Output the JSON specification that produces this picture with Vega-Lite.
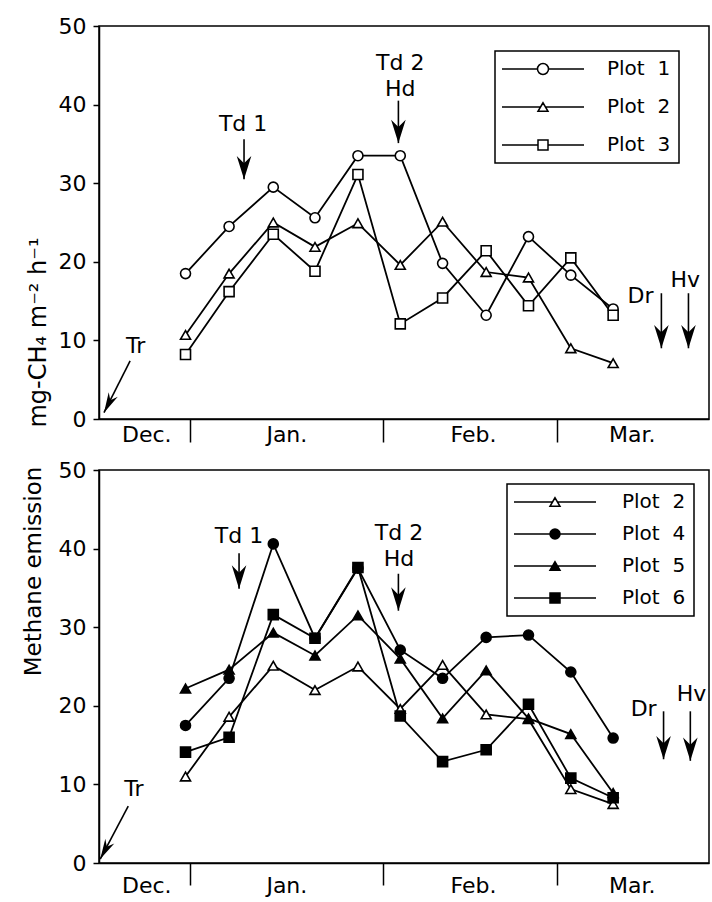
{
  "$schema": "https://vega.github.io/schema/vega-lite/v6.json",
  "padding": {"left": 21, "top": 14, "right": 0, "bottom": 0},
  "spacing": 51,
  "bounds": "flush",
  "resolve": {"scale": {"fill": "independent", "x": "independent", "y": "independent"}, "legend": {"fill": "independent"}},
  "config": {
    "font": "DejaVu Sans",
    "view": {"stroke": "black", "strokeWidth": 1.5},
    "axis": {"grid": false, "domainColor": "black", "domainWidth": 1.5, "tickColor": "black", "tickWidth": 1.5, "labelColor": "black", "titleColor": "black", "labelFont": "DejaVu Sans", "titleFont": "DejaVu Sans", "labelFontSize": 22, "titleFontWeight": "normal"},
    "legend": {"strokeWidth": 1.5}
  },
  "datasets": {
    "top": [
      {"day": -0.7, "value": 18.5, "series": "Plot 1"}, {"day": 6.3, "value": 24.5, "series": "Plot 1"}, {"day": 13.4, "value": 29.5, "series": "Plot 1"}, {"day": 20.1, "value": 25.6, "series": "Plot 1"}, {"day": 27.0, "value": 33.5, "series": "Plot 1"}, {"day": 33.8, "value": 33.5, "series": "Plot 1"}, {"day": 40.6, "value": 19.8, "series": "Plot 1"}, {"day": 47.6, "value": 13.2, "series": "Plot 1"}, {"day": 54.4, "value": 23.2, "series": "Plot 1"}, {"day": 61.2, "value": 18.3, "series": "Plot 1"}, {"day": 68.0, "value": 14.0, "series": "Plot 1"},
      {"day": -0.7, "value": 10.7, "series": "Plot 2"}, {"day": 6.3, "value": 18.5, "series": "Plot 2"}, {"day": 13.4, "value": 25.0, "series": "Plot 2"}, {"day": 20.1, "value": 21.9, "series": "Plot 2"}, {"day": 27.0, "value": 24.9, "series": "Plot 2"}, {"day": 33.8, "value": 19.6, "series": "Plot 2"}, {"day": 40.6, "value": 25.1, "series": "Plot 2"}, {"day": 47.6, "value": 18.7, "series": "Plot 2"}, {"day": 54.4, "value": 18.0, "series": "Plot 2"}, {"day": 61.2, "value": 9.0, "series": "Plot 2"}, {"day": 68.0, "value": 7.1, "series": "Plot 2"},
      {"day": -0.7, "value": 8.2, "series": "Plot 3"}, {"day": 6.3, "value": 16.2, "series": "Plot 3"}, {"day": 13.4, "value": 23.5, "series": "Plot 3"}, {"day": 20.1, "value": 18.8, "series": "Plot 3"}, {"day": 27.0, "value": 31.1, "series": "Plot 3"}, {"day": 33.8, "value": 12.1, "series": "Plot 3"}, {"day": 40.6, "value": 15.4, "series": "Plot 3"}, {"day": 47.6, "value": 21.4, "series": "Plot 3"}, {"day": 54.4, "value": 14.4, "series": "Plot 3"}, {"day": 61.2, "value": 20.5, "series": "Plot 3"}, {"day": 68.0, "value": 13.2, "series": "Plot 3"}
    ],
    "bottom": [
      {"day": -0.7, "value": 11.0, "series": "Plot 2"}, {"day": 6.3, "value": 18.6, "series": "Plot 2"}, {"day": 13.4, "value": 25.1, "series": "Plot 2"}, {"day": 20.1, "value": 22.0, "series": "Plot 2"}, {"day": 27.0, "value": 25.0, "series": "Plot 2"}, {"day": 33.8, "value": 19.6, "series": "Plot 2"}, {"day": 40.6, "value": 25.2, "series": "Plot 2"}, {"day": 47.6, "value": 18.9, "series": "Plot 2"}, {"day": 54.4, "value": 18.3, "series": "Plot 2"}, {"day": 61.2, "value": 9.4, "series": "Plot 2"}, {"day": 68.0, "value": 7.5, "series": "Plot 2"},
      {"day": -0.7, "value": 17.5, "series": "Plot 4"}, {"day": 6.3, "value": 23.5, "series": "Plot 4"}, {"day": 13.4, "value": 40.6, "series": "Plot 4"}, {"day": 20.1, "value": 28.6, "series": "Plot 4"}, {"day": 27.0, "value": 37.5, "series": "Plot 4"}, {"day": 33.8, "value": 27.1, "series": "Plot 4"}, {"day": 40.6, "value": 23.5, "series": "Plot 4"}, {"day": 47.6, "value": 28.7, "series": "Plot 4"}, {"day": 54.4, "value": 29.0, "series": "Plot 4"}, {"day": 61.2, "value": 24.3, "series": "Plot 4"}, {"day": 68.0, "value": 15.9, "series": "Plot 4"},
      {"day": -0.7, "value": 22.2, "series": "Plot 5"}, {"day": 6.3, "value": 24.6, "series": "Plot 5"}, {"day": 13.4, "value": 29.3, "series": "Plot 5"}, {"day": 20.1, "value": 26.4, "series": "Plot 5"}, {"day": 27.0, "value": 31.5, "series": "Plot 5"}, {"day": 33.8, "value": 26.0, "series": "Plot 5"}, {"day": 40.6, "value": 18.4, "series": "Plot 5"}, {"day": 47.6, "value": 24.5, "series": "Plot 5"}, {"day": 54.4, "value": 18.4, "series": "Plot 5"}, {"day": 61.2, "value": 16.4, "series": "Plot 5"}, {"day": 68.0, "value": 8.9, "series": "Plot 5"},
      {"day": -0.7, "value": 14.1, "series": "Plot 6"}, {"day": 6.3, "value": 16.0, "series": "Plot 6"}, {"day": 13.4, "value": 31.6, "series": "Plot 6"}, {"day": 20.1, "value": 28.6, "series": "Plot 6"}, {"day": 27.0, "value": 37.6, "series": "Plot 6"}, {"day": 33.8, "value": 18.7, "series": "Plot 6"}, {"day": 40.6, "value": 12.9, "series": "Plot 6"}, {"day": 47.6, "value": 14.4, "series": "Plot 6"}, {"day": 54.4, "value": 20.2, "series": "Plot 6"}, {"day": 61.2, "value": 10.8, "series": "Plot 6"}, {"day": 68.0, "value": 8.3, "series": "Plot 6"}
    ],
    "textTop": [
      {"label": "Tr", "day": -8.7, "value": 9.35}, {"label": "Td 1", "day": 8.55, "value": 37.5}, {"label": "Td 2", "day": 33.8, "value": 45.3}, {"label": "Hd", "day": 33.8, "value": 42.0}, {"label": "Dr", "day": 72.4, "value": 15.6}, {"label": "Hv", "day": 79.6, "value": 17.7}
    ],
    "arrowsTop": [
      {"label": "Tr", "day": -9.6, "value": 7.4, "day2": -13.8, "value2": 0.8},
      {"label": "Td 1", "day": 8.7, "value": 35.6, "day2": 8.7, "value2": 30.5},
      {"label": "Td 2", "day": 33.5, "value": 40.5, "day2": 33.5, "value2": 35.1},
      {"label": "Dr", "day": 75.75, "value": 16.0, "day2": 75.75, "value2": 9.0},
      {"label": "Hv", "day": 80.1, "value": 16.0, "day2": 80.1, "value2": 9.0}
    ],
    "textBottom": [
      {"label": "Tr", "day": -9.0, "value": 9.4}, {"label": "Td 1", "day": 7.9, "value": 41.6}, {"label": "Td 2", "day": 33.6, "value": 42.0}, {"label": "Hd", "day": 33.6, "value": 38.7}, {"label": "Dr", "day": 72.9, "value": 19.6}, {"label": "Hv", "day": 80.6, "value": 21.5}
    ],
    "arrowsBottom": [
      {"label": "Tr", "day": -9.9, "value": 7.25, "day2": -14.4, "value2": 0.5},
      {"label": "Td 1", "day": 7.9, "value": 39.4, "day2": 7.9, "value2": 34.9},
      {"label": "Td 2", "day": 33.5, "value": 36.8, "day2": 33.5, "value2": 32.1},
      {"label": "Dr", "day": 76.1, "value": 19.3, "day2": 76.1, "value2": 13.2},
      {"label": "Hv", "day": 80.4, "value": 19.3, "day2": 80.4, "value2": 13.0}
    ]
  },
  "vconcat": [
    {
      "width": 610,
      "height": 393,
      "layer": [
        {
          "data": {"name": "top"},
          "mark": {"type": "line", "color": "black", "strokeWidth": 1.8},
          "encoding": {
            "x": {"field": "day", "type": "quantitative", "scale": {"domain": [-14.6, 83.4], "nice": false, "zero": false},
              "axis": {"title": null, "values": [-7, 0, 15.5, 31, 45.5, 59, 71], "labelExpr": "datum.value == -7 ? 'Dec.' : datum.value == 15.5 ? 'Jan.' : datum.value == 45.5 ? 'Feb.' : datum.value == 71 ? 'Mar.' : ''", "tickOpacity": {"condition": {"test": "datum.value == 0 || datum.value == 31 || datum.value == 59", "value": 1}, "value": 0}, "tickSize": 23, "labelPadding": -18, "labelFlush": false, "labelOverlap": false}},
            "y": {"field": "value", "type": "quantitative", "scale": {"domain": [0, 50], "nice": false},
              "axis": {"title": "mg-CH₄ m⁻² h⁻¹", "titleFontSize": 24, "titleX": -54, "titleY": 306, "titleAngle": -90, "titleAlign": "center", "titleBaseline": "alphabetic", "values": [0, 5, 10, 15, 20, 25, 30, 35, 40, 45, 50], "labelExpr": "datum.value % 10 === 0 ? datum.label : ''", "tickSize": {"condition": {"test": "datum.value % 10 !== 0", "value": 3}, "value": 6}, "labelPadding": 7, "labelOverlap": false, "labelFlush": false}},
            "detail": {"field": "series"}
          }
        },
        {
          "data": {"name": "top"},
          "mark": {"type": "point", "filled": true, "stroke": "black", "strokeWidth": 1.6, "size": 100, "opacity": 1},
          "encoding": {
            "x": {"field": "day", "type": "quantitative", "scale": {"domain": [-14.6, 83.4], "nice": false, "zero": false}},
            "y": {"field": "value", "type": "quantitative", "scale": {"domain": [0, 50], "nice": false}},
            "shape": {"condition": [{"test": "datum.series === 'Plot 1'", "value": "circle"}, {"test": "datum.series === 'Plot 2'", "value": "triangle-up"}], "value": "square"},
            "fill": {"field": "series", "type": "nominal", "scale": {"domain": ["Plot 1", "Plot 2", "Plot 3"], "range": ["white", "white", "white"]},
              "legend": {"orient": "none", "legendX": 396, "legendY": 25, "title": null, "direction": "vertical", "strokeColor": "black", "fillColor": "white", "padding": 8, "symbolSize": 100, "symbolStrokeWidth": 1.5, "symbolStrokeColor": "black", "symbolOffset": 30, "labelFontSize": 20, "labelOffset": 54, "labelColor": "black", "labelFont": "DejaVu Sans", "rowPadding": 18,
                "symbolType": {"expr": "datum.value === 'Plot 1' ? 'M-8.2,0H-1.1M1.1,0H8.2M1.1,0A1.1,1.1,0,1,1,-1.1,0A1.1,1.1,0,1,1,1.1,0Z' : datum.value === 'Plot 2' ? 'M-8.2,0H-0.5M0.5,0H8.2M0,-0.85L-1,0.85L1,0.85Z' : 'M-8.2,0H-1M1,0H8.2M-1,-1H1V1H-1Z'"},
                "labelExpr": "replace(datum.label, ' ', '\u00a0\u00a0')",
                "encode": {"symbols": {"stroke": {"value": "black"}, "strokeWidth": {"value": 1.5}, "opacity": {"value": 1}}}}}
          }
        },
        {
          "data": {"name": "arrowsTop"},
          "mark": {"type": "rule", "color": "black", "strokeWidth": 1.6},
          "encoding": {
            "x": {"field": "day", "type": "quantitative", "scale": {"domain": [-14.6, 83.4], "nice": false, "zero": false}},
            "y": {"field": "value", "type": "quantitative", "scale": {"domain": [0, 50], "nice": false}},
            "x2": {"field": "day2"},
            "y2": {"field": "value2"}
          }
        },
        {
          "data": {"name": "arrowsTop"},
          "transform": [{"filter": "datum.label !== 'Tr'"}],
          "mark": {"type": "point", "shape": "M0,0L-0.5,-1.6L0,-1.1L0.5,-1.6Z", "size": 850, "filled": true, "color": "black", "opacity": 1},
          "encoding": {
            "x": {"field": "day2", "type": "quantitative", "scale": {"domain": [-14.6, 83.4], "nice": false, "zero": false}},
            "y": {"field": "value2", "type": "quantitative", "scale": {"domain": [0, 50], "nice": false}}
          }
        },
        {
          "data": {"name": "arrowsTop"},
          "transform": [{"filter": "datum.label === 'Tr'"}],
          "mark": {"type": "point", "shape": "M0,0L-0.4,-1.6L0,-1.1L0.4,-1.6Z", "size": 650, "angle": 27, "filled": true, "color": "black", "opacity": 1},
          "encoding": {
            "x": {"field": "day2", "type": "quantitative", "scale": {"domain": [-14.6, 83.4], "nice": false, "zero": false}},
            "y": {"field": "value2", "type": "quantitative", "scale": {"domain": [0, 50], "nice": false}}
          }
        },
        {
          "data": {"name": "textTop"},
          "mark": {"type": "text", "fontSize": 22, "font": "DejaVu Sans", "color": "black", "align": "center", "baseline": "middle"},
          "encoding": {
            "x": {"field": "day", "type": "quantitative", "scale": {"domain": [-14.6, 83.4], "nice": false, "zero": false}},
            "y": {"field": "value", "type": "quantitative", "scale": {"domain": [0, 50], "nice": false}},
            "text": {"field": "label"}
          }
        }
      ]
    },
    {
      "width": 610,
      "height": 393,
      "layer": [
        {
          "data": {"name": "bottom"},
          "mark": {"type": "line", "color": "black", "strokeWidth": 1.8},
          "encoding": {
            "x": {"field": "day", "type": "quantitative", "scale": {"domain": [-14.6, 83.4], "nice": false, "zero": false},
              "axis": {"title": null, "values": [-7, 0, 15.5, 31, 45.5, 59, 71], "labelExpr": "datum.value == -7 ? 'Dec.' : datum.value == 15.5 ? 'Jan.' : datum.value == 45.5 ? 'Feb.' : datum.value == 71 ? 'Mar.' : ''", "tickOpacity": {"condition": {"test": "datum.value == 0 || datum.value == 31 || datum.value == 59", "value": 1}, "value": 0}, "tickSize": 22, "labelPadding": -10, "labelFlush": false, "labelOverlap": false}},
            "y": {"field": "value", "type": "quantitative", "scale": {"domain": [0, 50], "nice": false},
              "axis": {"title": "Methane emission", "titleFontSize": 23, "titleX": -59, "titleY": 101, "titleAngle": -90, "titleAlign": "center", "titleBaseline": "alphabetic", "values": [0, 5, 10, 15, 20, 25, 30, 35, 40, 45, 50], "labelExpr": "datum.value % 10 === 0 ? datum.label : ''", "tickSize": {"condition": {"test": "datum.value % 10 !== 0", "value": 3}, "value": 6}, "labelPadding": 7, "labelOverlap": false, "labelFlush": false}},
            "detail": {"field": "series"}
          }
        },
        {
          "data": {"name": "bottom"},
          "mark": {"type": "point", "filled": true, "stroke": "black", "strokeWidth": 1.6, "size": 100, "opacity": 1},
          "encoding": {
            "x": {"field": "day", "type": "quantitative", "scale": {"domain": [-14.6, 83.4], "nice": false, "zero": false}},
            "y": {"field": "value", "type": "quantitative", "scale": {"domain": [0, 50], "nice": false}},
            "shape": {"condition": [{"test": "datum.series === 'Plot 4'", "value": "circle"}, {"test": "datum.series === 'Plot 6'", "value": "square"}], "value": "triangle-up"},
            "fill": {"field": "series", "type": "nominal", "scale": {"domain": ["Plot 2", "Plot 4", "Plot 5", "Plot 6"], "range": ["white", "black", "black", "black"]},
              "legend": {"orient": "none", "legendX": 408, "legendY": 14, "title": null, "direction": "vertical", "strokeColor": "black", "fillColor": "white", "padding": 8, "symbolSize": 100, "symbolStrokeWidth": 1.5, "symbolStrokeColor": "black", "symbolOffset": 30, "labelFontSize": 20, "labelOffset": 57, "labelColor": "black", "labelFont": "DejaVu Sans", "rowPadding": 12,
                "symbolType": {"expr": "datum.value === 'Plot 4' ? 'M-8.2,0H-1M1,0H8.2M1,0A1,1,0,1,1,-1,0A1,1,0,1,1,1,0Z' : datum.value === 'Plot 6' ? 'M-8.2,0H-1M1,0H8.2M-1,-1H1V1H-1Z' : 'M-8.2,0H-0.5M0.5,0H8.2M0,-0.85L-1,0.85L1,0.85Z'"},
                "labelExpr": "replace(datum.label, ' ', '\u00a0\u00a0')",
                "encode": {"symbols": {"stroke": {"value": "black"}, "strokeWidth": {"value": 1.5}, "opacity": {"value": 1}}}}}
          }
        },
        {
          "data": {"name": "arrowsBottom"},
          "mark": {"type": "rule", "color": "black", "strokeWidth": 1.6},
          "encoding": {
            "x": {"field": "day", "type": "quantitative", "scale": {"domain": [-14.6, 83.4], "nice": false, "zero": false}},
            "y": {"field": "value", "type": "quantitative", "scale": {"domain": [0, 50], "nice": false}},
            "x2": {"field": "day2"},
            "y2": {"field": "value2"}
          }
        },
        {
          "data": {"name": "arrowsBottom"},
          "transform": [{"filter": "datum.label !== 'Tr'"}],
          "mark": {"type": "point", "shape": "M0,0L-0.5,-1.6L0,-1.1L0.5,-1.6Z", "size": 850, "filled": true, "color": "black", "opacity": 1},
          "encoding": {
            "x": {"field": "day2", "type": "quantitative", "scale": {"domain": [-14.6, 83.4], "nice": false, "zero": false}},
            "y": {"field": "value2", "type": "quantitative", "scale": {"domain": [0, 50], "nice": false}}
          }
        },
        {
          "data": {"name": "arrowsBottom"},
          "transform": [{"filter": "datum.label === 'Tr'"}],
          "mark": {"type": "point", "shape": "M0,0L-0.4,-1.6L0,-1.1L0.4,-1.6Z", "size": 650, "angle": 28, "filled": true, "color": "black", "opacity": 1},
          "encoding": {
            "x": {"field": "day2", "type": "quantitative", "scale": {"domain": [-14.6, 83.4], "nice": false, "zero": false}},
            "y": {"field": "value2", "type": "quantitative", "scale": {"domain": [0, 50], "nice": false}}
          }
        },
        {
          "data": {"name": "textBottom"},
          "mark": {"type": "text", "fontSize": 22, "font": "DejaVu Sans", "color": "black", "align": "center", "baseline": "middle"},
          "encoding": {
            "x": {"field": "day", "type": "quantitative", "scale": {"domain": [-14.6, 83.4], "nice": false, "zero": false}},
            "y": {"field": "value", "type": "quantitative", "scale": {"domain": [0, 50], "nice": false}},
            "text": {"field": "label"}
          }
        }
      ]
    }
  ]
}
